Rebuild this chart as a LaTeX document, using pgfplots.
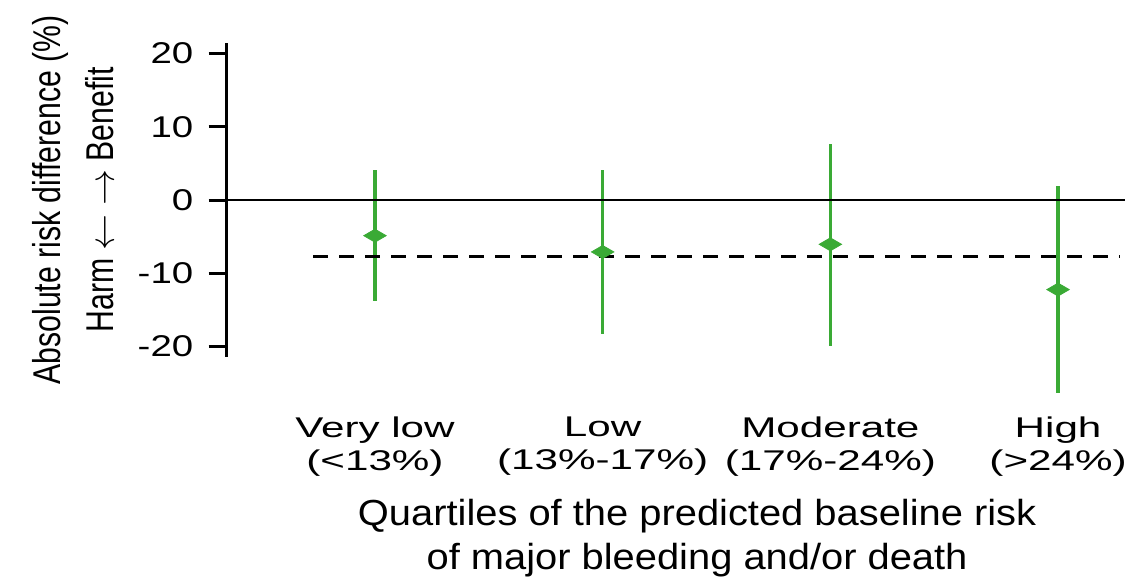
\documentclass[border=0pt]{standalone}
\usepackage{fontspec}
\setmainfont{Liberation Sans}
\newfontfamily\xlabfont[FakeStretch=1.10]{Liberation Sans}
\newfontfamily\ylabfont[FakeStretch=0.78]{Liberation Sans}
\newfontfamily\catfont[FakeStretch=1.48]{Liberation Sans}
\newfontfamily\tickfont[FakeStretch=1.28]{Liberation Sans}
\usepackage{pgfplots}
\pgfplotsset{compat=1.18}
\definecolor{ptgreen}{RGB}{58,170,53}
\begin{document}
\begin{tikzpicture}
\useasboundingbox (-90.7pt,-90.9pt) rectangle (359.3pt,142.7pt);
\begin{axis}[
  at={(0,0)}, anchor=south west,
  scale only axis, width=359.3pt, height=125.4pt,
  xmin=0.349, xmax=4.294, ymin=-21.4, ymax=21.4,
  clip=false,
  axis y line*=left, axis x line*=bottom,
  x axis line style={draw=none},
  y axis line style={line width=1.2pt, black},
  xtick={1,2,3,4},
  xticklabels={{Very low\\(<13\%)},{Low\\(13\%-17\%)},{Moderate\\(17\%-24\%)},{High\\(>24\%)}},
  xtick style={draw=none},
  xticklabel style={align=center, font=\catfont\fontsize{11.4}{13.2}\selectfont, inner sep=0pt, anchor=north, yshift=-16.8pt},
  ytick={-20,-10,0,10,20},
  ytick style={line width=1.2pt, black},
  tick align=outside,
  major tick length=7.2pt,
  yticklabel style={font=\tickfont\fontsize{12}{13}\selectfont, inner sep=0pt, anchor=east, xshift=-6pt},
  /pgf/number format/assume math mode=true,
  xlabel={Quartiles of the predicted baseline risk\\of major bleeding and/or death},
  xlabel style={align=center, font=\xlabfont\fontsize{14.5}{17.6}\selectfont, inner sep=0pt, at={(axis description cs:0.5236,-0.452)}, anchor=north},
  ylabel={Absolute risk difference (\%)\\Harm $\leftarrow$ $\rightarrow$ Benefit},
  ylabel style={align=center, font=\ylabfont\fontsize{15.5}{21.2}\selectfont, inner sep=0pt, at={(axis description cs:-0.1706,0.5)}, anchor=center},
]
\addplot[ptgreen, line width=1.3pt, only marks, mark=diamond*, mark size=2.6pt,
  mark options={xscale=2.3, fill=ptgreen, draw=ptgreen, line width=0.3pt},
  error bars/.cd, y dir=both, y explicit,
  error bar style={line width=1.3pt, ptgreen}, error mark=none]
  coordinates {
    (1,-4.87)  += (0,9.00)  -= (0,8.96)
    (2,-7.09)  += (0,11.22) -= (0,11.26)
    (3,-6.05)  += (0,13.73) -= (0,13.83)
    (4,-12.23) += (0,14.09) -= (0,14.10)
  };
\addplot[black, line width=0.85pt] coordinates {(0.349,0) (4.294,0)};
\addplot[black, line width=1.2pt, dash pattern=on 6pt off 4.4pt] coordinates {(0.728,-7.75) (4.272,-7.75)};
\end{axis}
\end{tikzpicture}
\end{document}
